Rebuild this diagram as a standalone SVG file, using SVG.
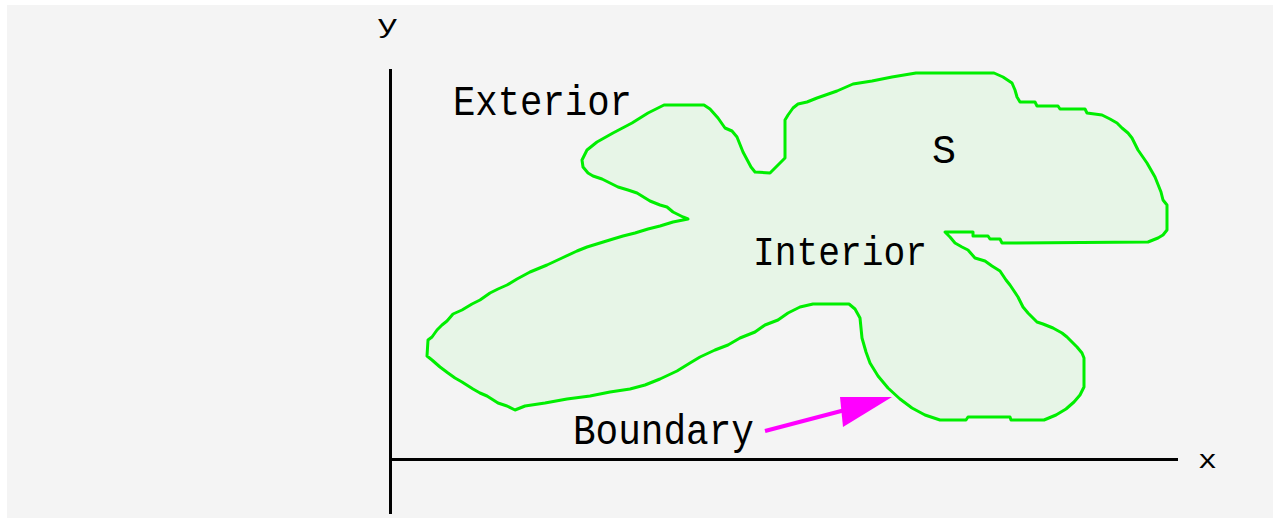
<svg xmlns="http://www.w3.org/2000/svg" width="1278" height="527" viewBox="0 0 1278 527">
<style>
.lbl{font-family:"Liberation Mono","Courier New",monospace;fill:#000;}
.axis{stroke:#000;stroke-width:3;fill:none;}
.region{fill:#e7f5e7;stroke:#00ee00;stroke-width:3;stroke-linejoin:round;}
.pointer{stroke:#ff00ff;stroke-width:4;fill:none;}
.head{fill:#ff00ff;}
</style>
<rect x="0" y="0" width="1278" height="527" fill="#ffffff"/>
<rect x="7" y="5" width="1266" height="513" fill="#f4f4f4"/>
<g id="axes">
<line class="axis" x1="390.5" y1="69" x2="390.5" y2="514"/>
<line class="axis" x1="390" y1="459.5" x2="1178" y2="459.5"/>
<text class="lbl" x="377" y="33" font-size="26" textLength="21" lengthAdjust="spacingAndGlyphs">y</text>
<text class="lbl" x="1198" y="468" font-size="26" textLength="19" lengthAdjust="spacingAndGlyphs">x</text>
</g>
<g id="set-S">
<path class="region" d="M582,160 L587,150 L597,142 L613,133 L632,123 L648,113 L664,105 L704,105 L710,109 L718,118 L725,128 L732,131 L737,137 L743,152 L751,167 L755,172 L770,173 L780,163 L785,158 L785,120 L788,115 L793,108 L798,104 L807,102 L817,98 L837,91 L853,84 L872,81 L892,77 L916,73 L994,73 L1003,77 L1012,83 L1015,90 L1017,97 L1020,102 L1035,102 L1037,106 L1058,106 L1060,109 L1085,109 L1087,113 L1102,115 L1110,119 L1117,123 L1122,128 L1128,133 L1132,138 L1138,150 L1147,163 L1155,177 L1161,192 L1163,200 L1167,205 L1167,230 L1163,235 L1158,238 L1148,242 L1002,243 L1000,239 L990,239 L988,236 L973,236 L973,232 L945,232 L950,237 L955,243 L962,247 L968,250 L975,258 L985,261 L992,266 L1000,271 L1006,280 L1010,285 L1018,297 L1023,307 L1028,313 L1037,322 L1043,324 L1053,328 L1062,333 L1067,337 L1072,342 L1077,347 L1082,353 L1084,358 L1084,387 L1080,395 L1074,402 L1066,409 L1056,415 L1044,420 L1011,420 L1010,417 L968,417 L966,420 L940,420 L925,415 L912,408 L900,399 L888,388 L878,376 L870,363 L866,352 L862,338 L860,318 L855,309 L849,304 L813,304 L800,307 L788,313 L778,320 L765,325 L755,332 L740,338 L728,345 L715,350 L700,357 L690,363 L677,371 L660,379 L645,385 L630,389 L610,392 L590,396 L567,399 L545,403 L525,406 L515,410 L507,406 L498,403 L487,396 L480,393 L473,389 L462,382 L455,378 L448,373 L440,367 L432,360 L427,356 L428,340 L432,337 L437,330 L442,325 L447,321 L453,314 L462,310 L472,304 L480,300 L490,293 L498,289 L507,285 L517,279 L530,272 L547,265 L562,258 L577,251 L587,247 L600,243 L613,239 L623,236 L635,233 L648,229 L660,226 L673,222 L688,219 L683,217 L673,212 L667,207 L660,205 L650,201 L637,193 L628,190 L618,187 L602,179 L593,176 L588,173 L583,167 Z"/>
</g>
<g id="label-exterior"><text class="lbl" x="453" y="115" font-size="43" textLength="179" lengthAdjust="spacingAndGlyphs">Exterior</text></g>
<g id="label-interior"><text class="lbl" x="753" y="265" font-size="40" textLength="174" lengthAdjust="spacingAndGlyphs">Interior</text></g>
<g id="label-S"><text class="lbl" x="932" y="163" font-size="41" textLength="24" lengthAdjust="spacingAndGlyphs">S</text></g>
<g id="label-boundary"><text class="lbl" x="573" y="444" font-size="43" textLength="181" lengthAdjust="spacingAndGlyphs">Boundary</text></g>
<g id="connectors">
<line class="pointer" x1="765" y1="431" x2="845" y2="410"/>
<polygon class="head" points="840,397 892,397 843,427"/>
</g>
</svg>
